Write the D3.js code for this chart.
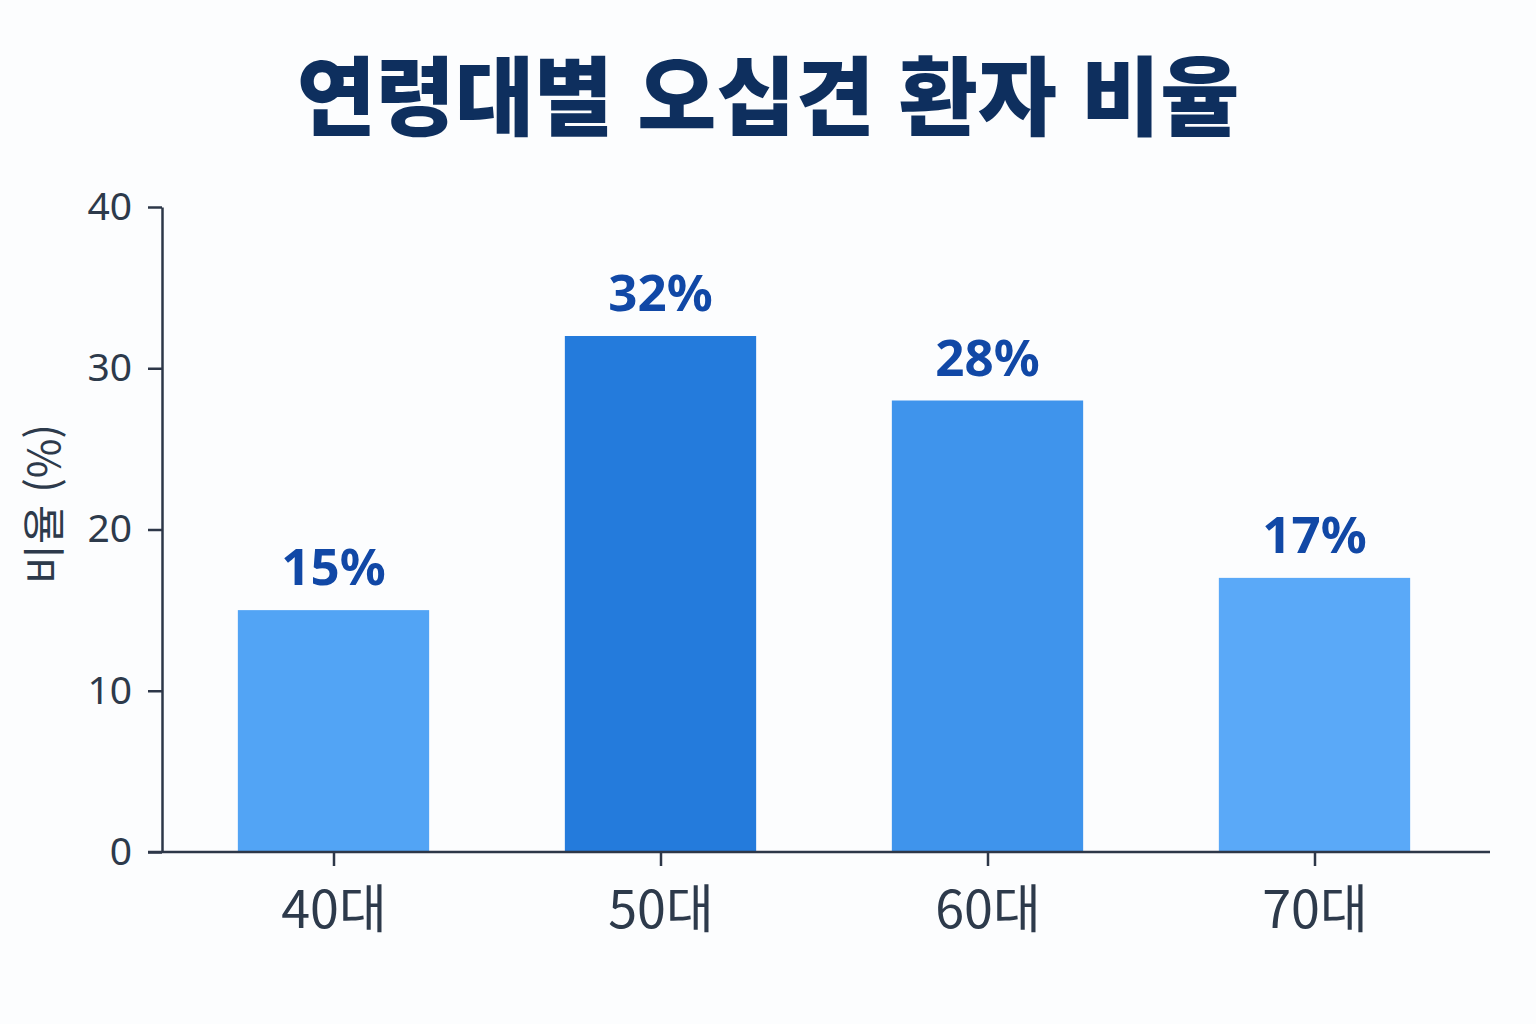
<!DOCTYPE HTML>
<html lang="ko">
<head>
	<meta charset="UTF-8">
	<title>연령대별 오십견 환자 비율</title>
	<style>
		html, body { margin: 0; padding: 0; background: #fcfdfe; }
		svg { display: block; }
	</style>
</head>
<body>
<script src="https://cdn.jsdelivr.net/npm/d3@7"></script>
<script type="text/javascript">
  // data
  var ageGroups = ['40대', '50대', '60대', '70대'],
      ratios    = [15, 32, 28, 17],
      barColors = ['#52a4f5', '#247bdc', '#3f94ec', '#5aa9f8'],
      yTicks    = [0, 10, 20, 30, 40];

  var W = 1536, H = 1024,
      plotLeft = 162, plotRight = 1490, plotTop = 207, plotBottom = 852;

  var svg = d3.select('body').append('svg')
      .attr('width', W)
      .attr('height', H);

  var x = d3.scalePoint()
      .domain(ageGroups)
      .range([170, 1478])
      .padding(0.5);

  var barW = x.step() * 0.585;

  var y = d3.scaleLinear()
      .domain([0, 40])
      .range([plotBottom, plotTop]);

  // title
  svg.append('text')
      .attr('x', 768)
      .attr('y', 129)
      .attr('text-anchor', 'middle')
      .style('font-family', '"Noto Sans CJK KR", "Noto Sans", sans-serif')
      .style('font-weight', 900)
      .style('font-size', '86px')
      .style('fill', '#0e2f5e')
      .text('연령대별 오십견 환자 비율');

  // bars
  svg.append('g').selectAll('rect')
      .data(ratios)
    .enter().append('rect')
      .attr('x', function(d, i) { return x(ageGroups[i]) - barW / 2; })
      .attr('y', function(d) { return y(d); })
      .attr('width', barW)
      .attr('height', function(d) { return y(0) - y(d); })
      .attr('fill', function(d, i) { return barColors[i]; });

  // value labels
  svg.append('g').selectAll('text')
      .data(ratios)
    .enter().append('text')
      .attr('x', function(d, i) { return x(ageGroups[i]); })
      .attr('y', function(d) { return y(d) - 25; })
      .attr('text-anchor', 'middle')
      .style('font-family', '"Noto Sans", "Noto Sans CJK KR", sans-serif')
      .style('font-weight', 700)
      .style('font-size', '51px')
      .style('fill', '#1148a6')
      .text(function(d) { return d + '%'; });

  // y axis
  var yAxis = svg.append('g')
      .attr('transform', 'translate(' + plotLeft + ',0)')
      .call(d3.axisLeft(y).tickValues(yTicks).tickSize(14).tickSizeOuter(0).tickPadding(16));

  yAxis.select('.domain').attr('stroke', '#2d3748').attr('stroke-width', 2.5);
  yAxis.selectAll('.tick line').attr('stroke', '#2d3748').attr('stroke-width', 2.5);
  yAxis.selectAll('.tick text')
      .style('font-family', '"Noto Sans", sans-serif')
      .style('font-size', '39px')
      .style('fill', '#2d3a4b');

  // x axis
  var xAxis = svg.append('g')
      .attr('transform', 'translate(0,' + plotBottom + ')')
      .call(d3.axisBottom(x).tickSize(14).tickSizeOuter(0).tickPadding(25));

  xAxis.select('.domain')
      .attr('d', 'M' + (plotLeft - 14) + ',0H' + plotRight)
      .attr('stroke', '#2d3748').attr('stroke-width', 2.5);
  xAxis.selectAll('.tick line').attr('stroke', '#2d3748').attr('stroke-width', 2.5);
  xAxis.selectAll('.tick text')
      .style('font-family', '"Noto Sans CJK KR", "Noto Sans", sans-serif')
      .style('font-size', '52px')
      .style('fill', '#2d3a4b');

  // y axis title
  svg.append('text')
      .attr('transform', 'translate(60,504) rotate(-90)')
      .attr('text-anchor', 'middle')
      .style('font-family', '"Noto Sans CJK KR", "Noto Sans", sans-serif')
      .style('font-size', '43px')
      .style('fill', '#2d3a4b')
      .text('비율 (%)');
</script>
</body>
</html>
